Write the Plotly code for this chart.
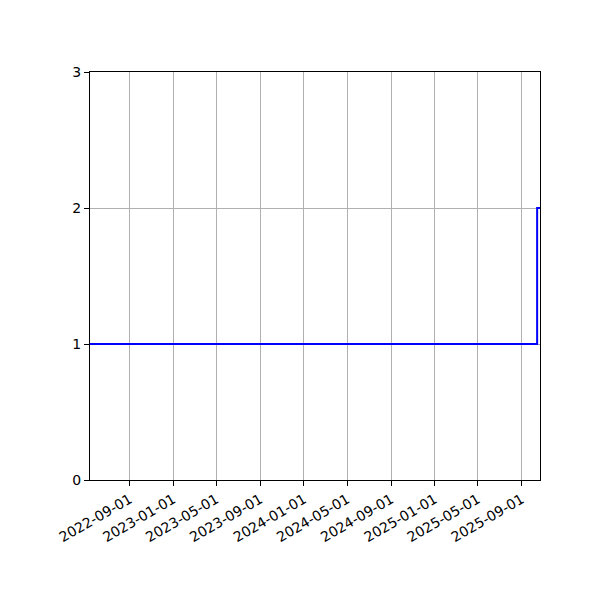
import plotly.graph_objects as go

# step series
dates = ["2022-05-13", "2025-10-14", "2025-10-22"]
counts = [1, 2, 2]

x_ticks = ["2022-09-01", "2023-01-01", "2023-05-01", "2023-09-01", "2024-01-01",
           "2024-05-01", "2024-09-01", "2025-01-01", "2025-05-01", "2025-09-01"]
y_ticks = [0, 1, 2, 3]

fig = go.Figure()
fig.add_trace(go.Scatter(
    x=dates, y=counts, mode="lines", line_shape="hv",
    line=dict(color="#0000ff", width=2),
))

axis_style = dict(
    showline=True, mirror=True, linecolor="black", linewidth=1,
    ticks="outside", ticklen=5, tickcolor="black",
    showgrid=True, gridcolor="#b0b0b0", gridwidth=1,
    zeroline=False, tickfont=dict(family="DejaVu Sans", size=14, color="black"),
)

fig.update_xaxes(
    range=[dates[0], dates[-1]], tickvals=x_ticks, ticktext=x_ticks,
    tickangle=-30, **axis_style,
)
fig.update_yaxes(range=[0, 3], tickvals=y_ticks, **axis_style)

# page body adds an 8px offset, so margins are shifted to compensate
fig.update_layout(
    width=600, height=600,
    margin=dict(l=82, r=68, t=64, b=128, autoexpand=False),
    plot_bgcolor="white", paper_bgcolor="white",
    showlegend=False,
)

fig.write_html("out.html")
